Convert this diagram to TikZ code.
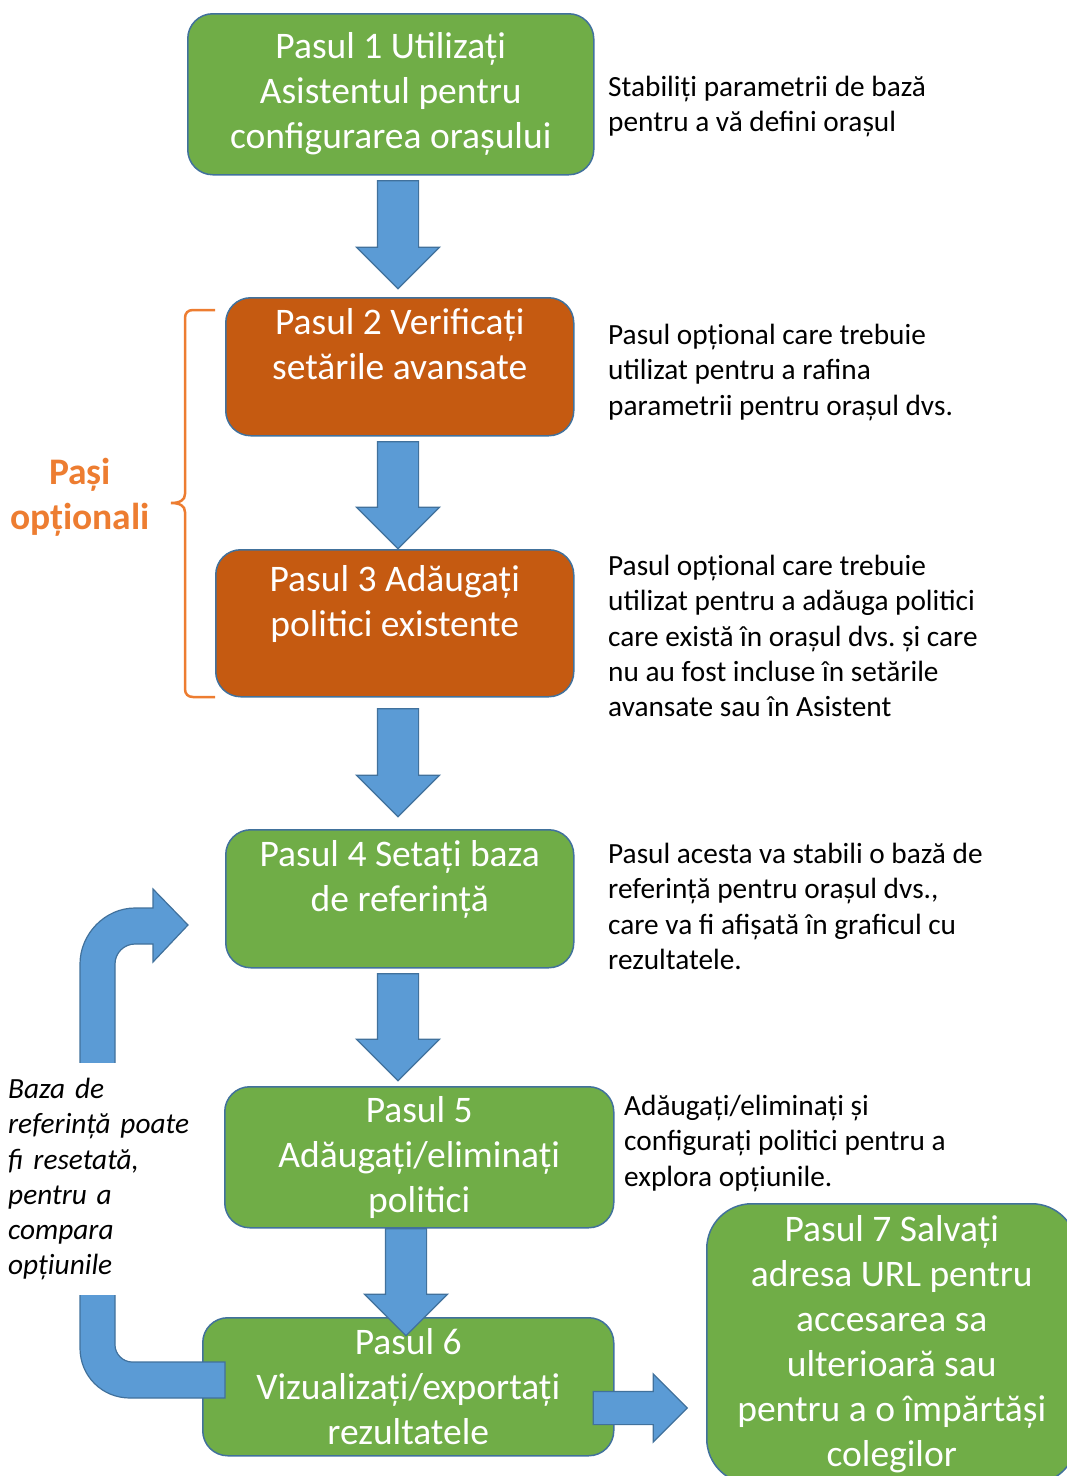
\documentclass[tikz,border=0pt]{standalone}
\usepackage{fontspec}
\setmainfont{Carlito}
\usetikzlibrary{shapes.arrows}
\definecolor{stepgreen}{RGB}{112,173,71}
\definecolor{steporange}{RGB}{197,90,17}
\definecolor{arrowblue}{RGB}{91,155,213}
\definecolor{edgeblue}{RGB}{65,113,156}
\definecolor{optional}{RGB}{237,125,49}
\frenchspacing
\tikzstyle{stepbox}=[draw=edgeblue, line width=1.5pt, rounded corners=25pt, anchor=north west, inner sep=0pt, text=white, align=center, font=\fontsize{37.5}{45}\selectfont]
\tikzstyle{note}=[align=left, anchor=north west, inner sep=0pt, font=\fontsize{29.3}{35.3}\selectfont]
\tikzstyle{blockarrow}=[single arrow, fill=arrowblue, draw=edgeblue, line width=1.2pt, inner xsep=0pt, single arrow head indent=0pt]
\tikzstyle{downarrow}=[blockarrow, rotate=-90, inner ysep=20pt, minimum width=82pt, single arrow head extend=21pt, minimum height=108pt]

\begin{document}
\begin{tikzpicture}[x=1pt,y=-1pt]
  \useasboundingbox (0,0) rectangle (1067,1476);
  \draw (187,13) node[stepbox, fill=stepgreen, minimum width=406pt, minimum height=161pt] (P1) {Pasul 1 Utilizați\\Asistentul pentru\\configurarea orașului};
  \draw (225,297) node[stepbox, fill=steporange, minimum width=348pt, minimum height=138pt] (P2) {Pasul 2 Verificați\\setările avansate\\\mbox{}};
  \draw (215,549) node[stepbox, fill=steporange, minimum width=358pt, minimum height=147pt] (P3) {Pasul 3 Adăugați\\politici existente\\\mbox{}};
  \draw (225,829) node[stepbox, fill=stepgreen, minimum width=348pt, minimum height=138pt] (P4) {Pasul 4 Setați baza\\de referință\\\mbox{}};
  \draw (224,1086) node[stepbox, fill=stepgreen, minimum width=389pt, minimum height=141pt] (P5) {Pasul 5\\Adăugați/eliminați\\politici};
  \draw (202,1317) node[stepbox, fill=stepgreen, minimum width=411pt, minimum height=138pt] (P6) {};
  \draw (706,1203) node[stepbox, fill=stepgreen, rounded corners=45pt, minimum width=370pt, minimum height=280pt] (P7) {Pasul 7 Salvați\\adresa URL pentru\\accesarea sa\\ulterioară sau\\pentru a o împărtăși\\colegilor};

  %% Optional bracket
  \draw[optional, line width=2.5pt] (215,310) -- (193,310) .. controls (188,310) and (185,313) .. (185,318) -- (185,494) .. controls (185,500) and (180,503) .. (171,503) .. controls (180,503) and (185,506) .. (185,512) -- (185,689) .. controls (185,694) and (188,697) .. (193,697) -- (215,697);
  \draw (80,458) node[anchor=north, align=center, inner sep=0pt, text=optional, font=\fontsize{37.5}{45}\selectfont\bfseries] (opt) {Pași\\opționali};

  %% Loop back to step 4
  \filldraw[fill=arrowblue, draw=edgeblue, line width=1.2pt] (188,925) -- (153,962) -- (153,944) -- (135,944) .. controls (124,944) and (115,953) .. (115,964) -- (115,1345) .. controls (115,1354) and (123,1362) .. (132,1362) -- (225,1362) -- (225,1398) -- (130,1398) .. controls (102,1398) and (80,1376) .. (80,1348) -- (80,964) .. controls (80,934) and (105,908) .. (135,908) -- (153,908) -- (153,889) -- cycle;
  \draw (2,1063) node[anchor=north west, fill=white, align=left, text width=190pt, inner xsep=6pt, inner ysep=0pt, minimum height=232pt, font=\fontsize{29.3}{35.3}\selectfont\itshape] (reset) {Baza de\\referință poate\\fi resetată,\\pentru a\\compara\\opțiunile};

  %% Arrows between steps
  \draw (398,224.5) node[downarrow] (A1) {};
  \draw (398,485) node[downarrow, minimum height=107pt] (A2) {};
  \draw (398,752.5) node[downarrow] (A3) {};
  \draw (398,1017) node[downarrow, minimum height=107pt] (A4) {};
  \draw (406,1272) node[downarrow, minimum height=107pt] (A5) {};
  \draw (632,1408) node[blockarrow, inner ysep=16pt, minimum width=67pt, single arrow head extend=17.5pt, minimum height=94pt] (A6) {};
  \node[text=white, align=center, inner sep=0pt, font=\fontsize{37.5}{45}\selectfont] (T6) at (P6.center) {Pasul 6\\Vizualizați/exportați\\rezultatele};

  %% Notes
  \draw (608,76) node[note] (N1) {Stabiliți parametrii de bază\\pentru a vă defini orașul};
  \draw (608,324) node[note] (N2) {Pasul opțional care trebuie\\utilizat pentru a rafina\\parametrii pentru orașul dvs.};
  \draw (608,555) node[note] (N3) {Pasul opțional care trebuie\\utilizat pentru a adăuga politici\\care există în orașul dvs. și care\\nu au fost incluse în setările\\avansate sau în Asistent};
  \draw (608,843) node[note] (N4) {Pasul acesta va stabili o bază de\\referință pentru orașul dvs.,\\care va fi afișată în graficul cu\\rezultatele.};
  \draw (624,1095) node[note] (N5) {Adăugați/eliminați și\\configurați politici pentru a\\explora opțiunile.};
\end{tikzpicture}
\end{document}
